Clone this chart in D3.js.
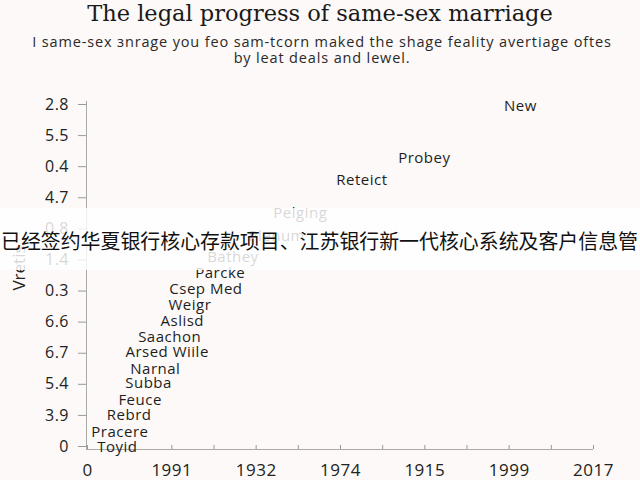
<!DOCTYPE html>
<html><head><meta charset="utf-8">
<script src="https://cdn.jsdelivr.net/npm/d3@7"></script>
<style>
html,body{margin:0;padding:0;background:#fcf9f8;}
svg{display:block;}
</style></head>
<body>
<svg id="c" width="640" height="480"></svg>
<script>
const titleText = "The legal progress of same-sex marriage";
const subtitleLines = ["I same-sex \u0437nrage you feo sam-tcorn maked the shage feality avertiage oftes", "by leat deals and lewel."];
const yAxisTitle = "Vretis";
const xTickLabels = ["0","1991","1932","1974","1915","1999","2017"];
const yTickLabels = ["0","3.9","5.4","6.7","6.6","0.3","1.4","0.8","4.7","0.4","5.5","2.8"];
const pointLabels = ["New","Probey","Reteict","Pelging","Plenum","Bathey","Parcke","Csep Med","Weigr","Aslisd","Saachon","Arsed Wiile","Narnal","Subba","Feuce","Rebrd","Pracere","Toyid"];
const pointX = [5.14,4.0,3.26,2.53,2.25,1.73,1.58,1.41,1.22,1.13,0.98,0.95,0.81,0.73,0.63,0.50,0.39,0.36];
const pointY = [10.94,9.26,8.55,7.49,6.75,6.1,5.56,5.05,4.53,4.02,3.5,3.02,2.5,2.03,1.48,1.0,0.45,-0.03];
const bannerText = "已经签约华夏银行核心存款项目、江苏银行新一代核心系统及客户信息管";

const svg = d3.select("#c");
const sans = "'Open Sans', 'Noto Sans', sans-serif";

const x = d3.scaleLinear().domain([0, 6]).range([87, 593]);
const y = d3.scaleLinear().domain([0, 11]).range([446, 104]);

// title
svg.append("text").attr("x", 320).attr("y", 21).attr("text-anchor", "middle")
  .attr("font-family", "'DejaVu Serif', serif").attr("font-size", 22.5).attr("fill", "#1a1a1a")
  .text(titleText);
subtitleLines.forEach((t, i) => {
  svg.append("text").attr("x", 322).attr("y", 47 + i * 15.5).attr("text-anchor", "middle")
    .attr("font-family", sans).attr("font-size", 14.5).attr("letter-spacing", 0.85)
    .attr("fill", "#2a2a2a").text(t);
});

// axes
const xAxis = d3.axisBottom(x).tickValues(d3.range(0, 6.01, 0.5)).tickSize(4).tickSizeOuter(0)
  .tickFormat(d => Number.isInteger(d) ? xTickLabels[d] : "");
const gx = svg.append("g").attr("transform", "translate(0,449)").call(xAxis);
gx.select(".domain").attr("stroke", "#aaa").attr("d", "M86,0.5H593");
gx.selectAll(".tick line").attr("stroke", "#999").attr("y1", -4).attr("y2", 0);
gx.selectAll(".tick text").attr("font-family", sans).attr("font-size", 17).attr("fill", "#222")
  .attr("dy", "1.15em").attr("letter-spacing", 0.5);

const yAxis = d3.axisLeft(y).tickValues(d3.range(0, 12)).tickSize(8).tickSizeOuter(0)
  .tickFormat(d => yTickLabels[d]);
const gy = svg.append("g").attr("transform", "translate(86,0)").call(yAxis);
gy.select(".domain").attr("stroke", "#aaa").attr("d", "M0.5,101V449");
gy.selectAll(".tick line").attr("stroke", "#999");
gy.selectAll(".tick text").attr("font-family", sans).attr("font-size", 16).attr("fill", "#222")
  .attr("x", -17).attr("letter-spacing", 0.5);

// y axis title
svg.append("text").attr("transform", "translate(25,268) rotate(-90)").attr("text-anchor", "middle")
  .attr("font-family", sans).attr("font-size", 17).attr("fill", "#222").text(yAxisTitle);

// point labels
svg.append("g").selectAll("text").data(pointLabels).join("text")
  .attr("x", (d, i) => x(pointX[i])).attr("y", (d, i) => y(pointY[i]))
  .attr("dy", "0.35em").attr("text-anchor", "middle")
  .attr("font-family", sans).attr("font-size", 15).attr("letter-spacing", 0.5).attr("fill", "#1e1e1e")
  .text(d => d);

// overlay banner
svg.append("rect").attr("x", 0).attr("y", 208).attr("width", 640).attr("height", 62)
  .attr("fill", "#ffffff").attr("opacity", 0.82);
svg.append("text").attr("x", 1).attr("y", 249)
  .attr("font-family", "'Noto Sans CJK SC', sans-serif").attr("font-size", 20)
  .attr("textLength", 637).attr("lengthAdjust", "spacingAndGlyphs")
  .attr("fill", "#111").text(bannerText);
</script>
</body></html>
